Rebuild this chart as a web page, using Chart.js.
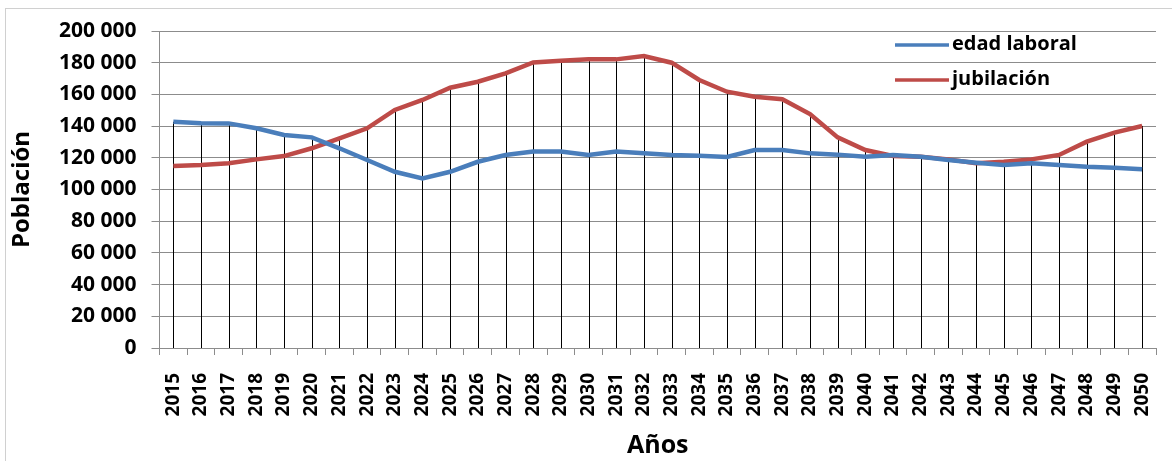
<!DOCTYPE html>
<html>
<head>
<meta charset="utf-8">
<script src="https://cdn.jsdelivr.net/npm/chart.js@4/dist/chart.umd.min.js"></script>
<style>
  html, body { margin: 0; padding: 0; background: #fff; }
  #wrap { width: 1172px; height: 461px; position: relative; }
</style>
</head>
<body>
<div id="wrap"><canvas id="poblacion" width="1172" height="461"></canvas></div>
<script>
var anios = ["2015","2016","2017","2018","2019","2020","2021","2022","2023","2024",
  "2025","2026","2027","2028","2029","2030","2031","2032","2033","2034",
  "2035","2036","2037","2038","2039","2040","2041","2042","2043","2044",
  "2045","2046","2047","2048","2049","2050"];
var edadLaboral = [142700, 141800, 141700, 138600, 134400, 132900, 126000, 118600, 111200, 107000,
  111200, 117500, 121800, 123900, 123900, 121800, 123900, 122800, 121800, 121300,
  120500, 124900, 124900, 122800, 122000, 120700, 121800, 120700, 118600, 116900,
  115500, 116500, 115500, 114400, 113700, 112700];
var jubilacion = [114800, 115400, 116500, 119000, 121100, 126000, 132300, 138600, 150200, 156500,
  164200, 168000, 173300, 180200, 181300, 182100, 182100, 184200, 180000, 169100,
  161700, 158500, 156900, 147600, 132900, 124900, 121100, 120700, 119000, 116500,
  117500, 119000, 121800, 130200, 135900, 140100];
var yTicks = [0, 20000, 40000, 60000, 80000, 100000, 120000, 140000, 160000, 180000, 200000];

var azul = '#4a7ebb';
var rojo = '#be4b48';
var fuente = "'Open Sans', sans-serif";

// lineas verticales desde el punto mas alto hasta el eje
var lineasCaida = {
  id: 'lineasCaida',
  beforeDatasetsDraw: function(chart) {
    var ctx = chart.ctx, x = chart.scales.x, y = chart.scales.y;
    ctx.save();
    ctx.strokeStyle = '#000';
    ctx.lineWidth = 1;
    for (var i = 0; i < anios.length; i++) {
      var px = Math.round(x.getPixelForValue(i)) + 0.5;
      var top = y.getPixelForValue(Math.max(edadLaboral[i], jubilacion[i]));
      ctx.beginPath();
      ctx.moveTo(px, top);
      ctx.lineTo(px, y.bottom);
      ctx.stroke();
    }
    ctx.restore();
  }
};

// leyenda dentro del area del grafico y marco exterior
var leyenda = {
  id: 'leyenda',
  afterDraw: function(chart) {
    var ctx = chart.ctx;
    ctx.save();
    ctx.strokeStyle = '#d0d0d0';
    ctx.lineWidth = 1;
    ctx.strokeRect(5.5, 8.5, 1170, 460);
    ctx.font = "bold 20px " + fuente;
    ctx.textBaseline = 'middle';
    chart.data.datasets.forEach(function(ds, i) {
      var yy = 45 + i * 35;
      ctx.strokeStyle = ds.borderColor;
      ctx.lineWidth = 3.5;
      ctx.beginPath();
      ctx.moveTo(895, yy);
      ctx.lineTo(949, yy);
      ctx.stroke();
      ctx.fillStyle = '#000';
      ctx.fillText(ds.label, 952, yy - 1);
    });
    ctx.restore();
  }
};

var ctx = document.getElementById("poblacion");
var chartPoblacion = new Chart(ctx, {
  type: 'line',
  data: {
    labels: anios,
    datasets: [{
      label: 'edad laboral',
      data: edadLaboral,
      borderColor: azul,
      backgroundColor: azul,
      borderWidth: 4.5,
      pointRadius: 0,
      tension: 0
    }, {
      label: 'jubilación',
      data: jubilacion,
      borderColor: rojo,
      backgroundColor: rojo,
      borderWidth: 4.5,
      pointRadius: 0,
      tension: 0
    }]
  },
  plugins: [lineasCaida, leyenda],
  options: {
    responsive: false,
    animation: false,
    layout: {
      padding: { left: 0, right: 16, top: 31, bottom: 0 }
    },
    plugins: {
      legend: { display: false },
      tooltip: { enabled: false }
    },
    scales: {
      x: {
        offset: true,
        grid: {
          offset: true,
          drawOnChartArea: false,
          drawTicks: true,
          tickLength: 7,
          color: '#8c8c8c'
        },
        border: { color: '#8c8c8c' },
        ticks: {
          color: '#000',
          font: { family: fuente, size: 19, weight: 'bold' },
          minRotation: 90,
          maxRotation: 90,
          autoSkip: false,
          padding: 18
        },
        title: {
          display: true,
          text: 'Años',
          color: '#000',
          font: { family: fuente, size: 25, weight: 'bold' },
          padding: { top: 0, bottom: 0 }
        },
        afterFit: function(scale) {
          scale.height = 113;
          scale.paddingLeft = 0;
          scale.paddingRight = 0;
        }
      },
      y: {
        min: 0,
        max: 200000,
        afterBuildTicks: function(scale) {
          scale.ticks = yTicks.map(function(v) { return { value: v }; });
        },
        grid: {
          color: '#8c8c8c',
          tickLength: 8
        },
        border: { color: '#8c8c8c' },
        ticks: {
          color: '#000',
          font: { family: fuente, size: 21, weight: 'bold' },
          padding: 15,
          callback: function(value) {
            return String(value).replace(/\B(?=(\d{3})+(?!\d))/g, ' ');
          }
        },
        title: {
          display: true,
          text: 'Población',
          color: '#000',
          font: { family: fuente, size: 24, weight: 'bold' },
          padding: { top: 8, bottom: 0 }
        },
        afterFit: function(scale) { scale.width = 159.5; }
      }
    }
  }
});
</script>
</body>
</html>
